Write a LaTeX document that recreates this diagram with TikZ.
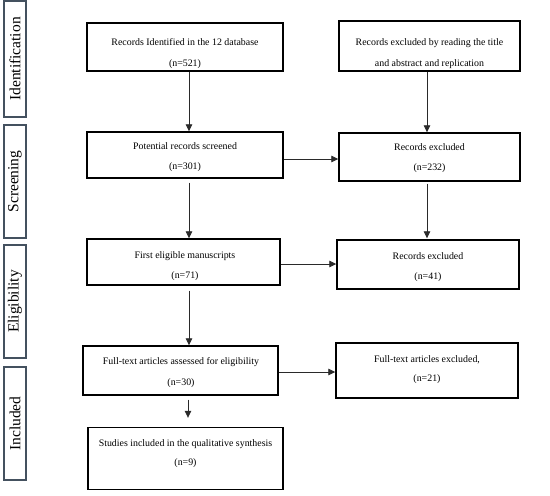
\documentclass[tikz,border=0pt]{standalone}
\usepackage{fontspec}
\setmainfont{Liberation Serif}
\usetikzlibrary{arrows.meta,calc}
\definecolor{sideblue}{HTML}{44515F}
\definecolor{arrowgray}{HTML}{2A2A2A}
\tikzset{
  stagebox/.style={draw=sideblue,line width=1.5pt,minimum width=22pt,inner sep=0pt},
  stagetext/.style={rotate=90,font=\fontsize{15.5}{17}\selectfont},
  flowbox/.style={draw=black,line width=1.4pt,inner sep=0pt},
  boxtext/.style={font=\fontsize{9.9}{11}\selectfont,inner sep=0pt,anchor=base},
  flowarrow/.style={draw=arrowgray,line width=0.8pt,-{Triangle[length=7pt,width=6.5pt]}}
}
\begin{document}
\begin{tikzpicture}[x=1pt,y=-1pt]
\useasboundingbox (0,0) rectangle (550,496);
% stage boxes
\node[stagebox,minimum height=116pt] (sid) at (15,59) {};
\node[stagetext] at (sid.center) {Identification};
\node[stagebox,minimum height=113pt] (ssc) at (15,181.5) {};
\node[stagetext] at (ssc.center) {Screening};
\node[stagebox,minimum height=113pt] (sel) at (15,301.5) {};
\node[stagetext] at (sel.center) {Eligibility};
\node[stagebox,minimum height=113pt] (sin) at (15,423.5) {};
\node[stagetext] at (sin.center) {Included};
% flow boxes
\node[flowbox,minimum width=196pt,minimum height=48pt] (b1) at (185,47) {};
\node[boxtext] at (185,45) {Records Identified in the 12 database};
\node[boxtext] at (185,66) {(n=521)};
\node[flowbox,minimum width=181pt,minimum height=50pt] (b2) at (429.5,46) {};
\node[boxtext] at (429.5,45) {Records excluded by reading the title};
\node[boxtext] at (429.5,66) {and abstract and replication};
\node[flowbox,minimum width=196pt,minimum height=46pt] (b3) at (185,155) {};
\node[boxtext] at (185,149) {Potential records screened};
\node[boxtext] at (185,169) {(n=301)};
\node[flowbox,minimum width=181pt,minimum height=48pt] (b4) at (429.5,157) {};
\node[boxtext] at (429.5,150) {Records excluded};
\node[boxtext] at (429.5,170) {(n=232)};
\node[flowbox,minimum width=193pt,minimum height=46pt] (b5) at (183.5,262) {};
\node[boxtext] at (185,258) {First eligible manuscripts};
\node[boxtext] at (185,278) {(n=71)};
\node[flowbox,minimum width=182pt,minimum height=49pt] (b6) at (428,264.5) {};
\node[boxtext] at (428,259) {Records excluded};
\node[boxtext] at (428,279) {(n=41)};
\node[flowbox,minimum width=195pt,minimum height=49pt] (b7) at (180.5,370.5) {};
\node[boxtext] at (181,364) {Full-text articles assessed for eligibility};
\node[boxtext] at (181,385) {(n=30)};
\node[flowbox,minimum width=182pt,minimum height=55pt] (b8) at (427,370.5) {};
\node[boxtext] at (427,362) {Full-text articles excluded,};
\node[boxtext] at (427,381) {(n=21)};
\node[flowbox,minimum width=195pt,minimum height=62pt] (b9) at (185.5,458.5) {};
\node[boxtext] at (185.5,446) {Studies included in the qualitative synthesis};
\node[boxtext] at (185.5,465) {(n=9)};
% arrows
\draw[flowarrow] (b1.south -| 189,0) -- (b3.north -| 189,0);
\draw[flowarrow] (b2.south -| 427,0) -- (b4.north -| 427,0);
\draw[flowarrow] ($(b3.south -| 189,0)+(0,4)$) -- (b5.north -| 189,0);
\draw[flowarrow] ($(b4.south -| 427,0)+(0,2)$) -- ($(b6.north -| 427,0)+(0,-1)$);
\draw[flowarrow] ($(b5.south -| 189,0)+(0,5)$) -- (b7.north -| 189,0);
\draw[flowarrow] ($(b7.south -| 188,0)+(0,4)$) -- ($(b9.north -| 188,0)+(0,-9)$);
\draw[flowarrow] (b3.east |- 0,159) -- (b4.west |- 0,159);
\draw[flowarrow] (b5.east |- 0,264) -- (b6.west |- 0,264);
\draw[flowarrow] (b7.east |- 0,372) -- (b8.west |- 0,372);
\end{tikzpicture}
\end{document}
